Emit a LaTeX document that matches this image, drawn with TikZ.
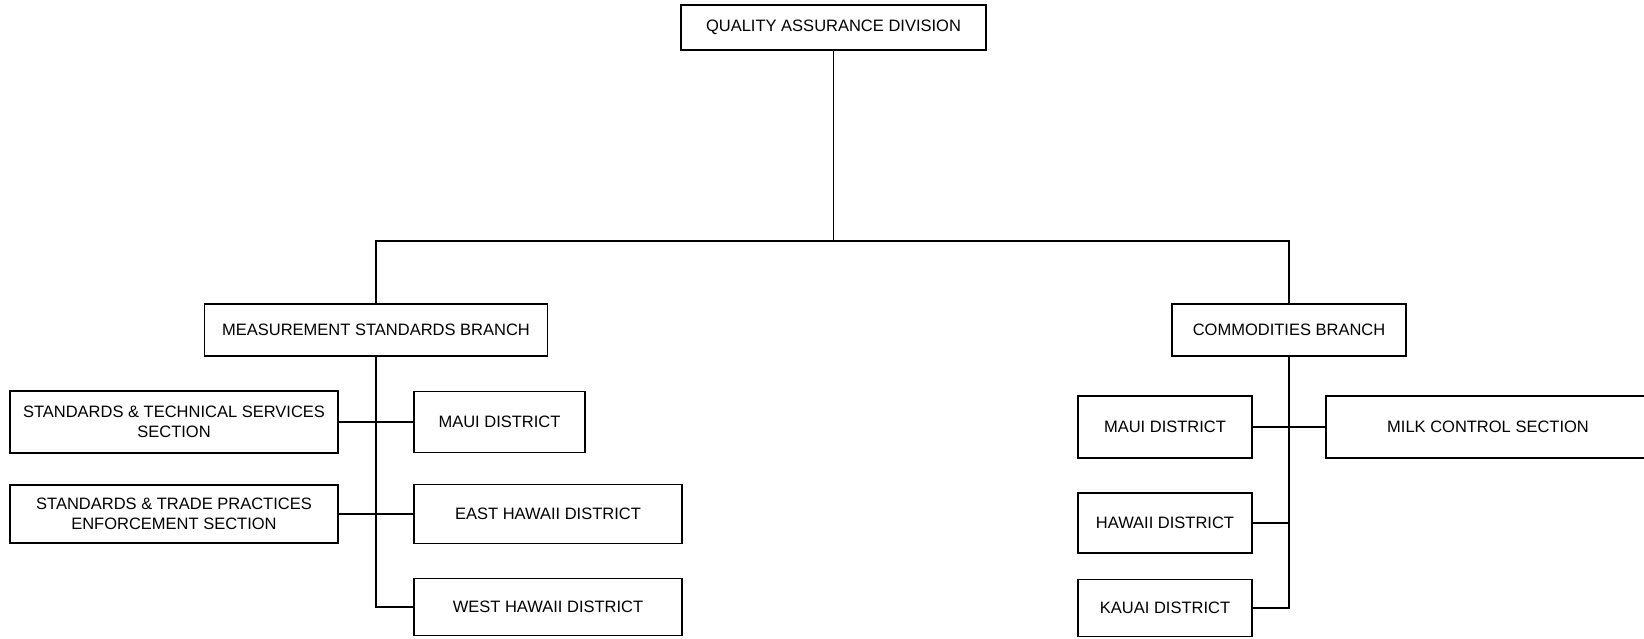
\documentclass[tikz,border=0pt]{standalone}
\usepackage{fontspec}
\setmainfont{Liberation Sans}
\usetikzlibrary{positioning}

\begin{document}
\begin{tikzpicture}[x=1pt, y=-1pt]
\tikzstyle{block} = [rectangle, draw, line width=1.3pt, text centered, inner sep=0pt,
  font=\fontsize{16.5}{20}\selectfont, minimum height=58pt]
\tikzstyle{line} = [line width=1.3pt, draw]
\useasboundingbox (0,0) rectangle (1644,638);

    \node [block,minimum width=305pt,minimum height=45pt] (qad) at (833.5,27.5) {QUALITY ASSURANCE DIVISION};
    \node [block,minimum width=343pt,minimum height=52pt] (msb) at (376,330) {MEASUREMENT STANDARDS BRANCH};
    \node [block,minimum width=234pt,minimum height=52pt] (cb) at (1289,330) {COMMODITIES BRANCH};
    \node[align=center] [block,minimum width=328pt,minimum height=62pt] (sts) at (174,422) {STANDARDS \& TECHNICAL SERVICES\\SECTION};
    \node[align=center] [block,minimum width=328pt] (stpe) at (174,514) {STANDARDS \& TRADE PRACTICES\\ENFORCEMENT SECTION};
    \node [block,minimum width=171pt,minimum height=61pt] (maui-ms) at (499.5,422) {MAUI DISTRICT};
    \node [block,minimum width=268pt,minimum height=59pt] (east-hawaii) at (548,514) {EAST HAWAII DISTRICT};
    \node [block,minimum width=268pt,minimum height=57pt] (west-hawaii) at (548,607) {WEST HAWAII DISTRICT};
    \node [block,minimum width=174pt,minimum height=62pt] (maui-cb) at (1165,427) {MAUI DISTRICT};
    \node [block,minimum width=324pt,minimum height=62pt] (milk) at (1488,427) {MILK CONTROL SECTION};
    \node [block,minimum width=174pt,minimum height=60pt] (hawaii) at (1165,523) {HAWAII DISTRICT};
    \node [block,minimum width=174pt,minimum height=57pt] (kauai) at (1165,608) {KAUAI DISTRICT};
    \coordinate (bar) at (833.5,241);

    \path [line] (qad) -- (bar);
    \path [line] (msb.north) |- (bar) -| (cb.north);
    \path [line] (msb.south) |- (west-hawaii.west);
    \path [line] (sts.east) -- (maui-ms.west);
    \path [line] (stpe.east) -- (east-hawaii.west);
    \path [line] (cb.south) |- (kauai.east);
    \path [line] (maui-cb.east) -- (milk.west);
    \path [line] (hawaii.east) -- (hawaii.east -| cb.south);
\end{tikzpicture}
\end{document}
